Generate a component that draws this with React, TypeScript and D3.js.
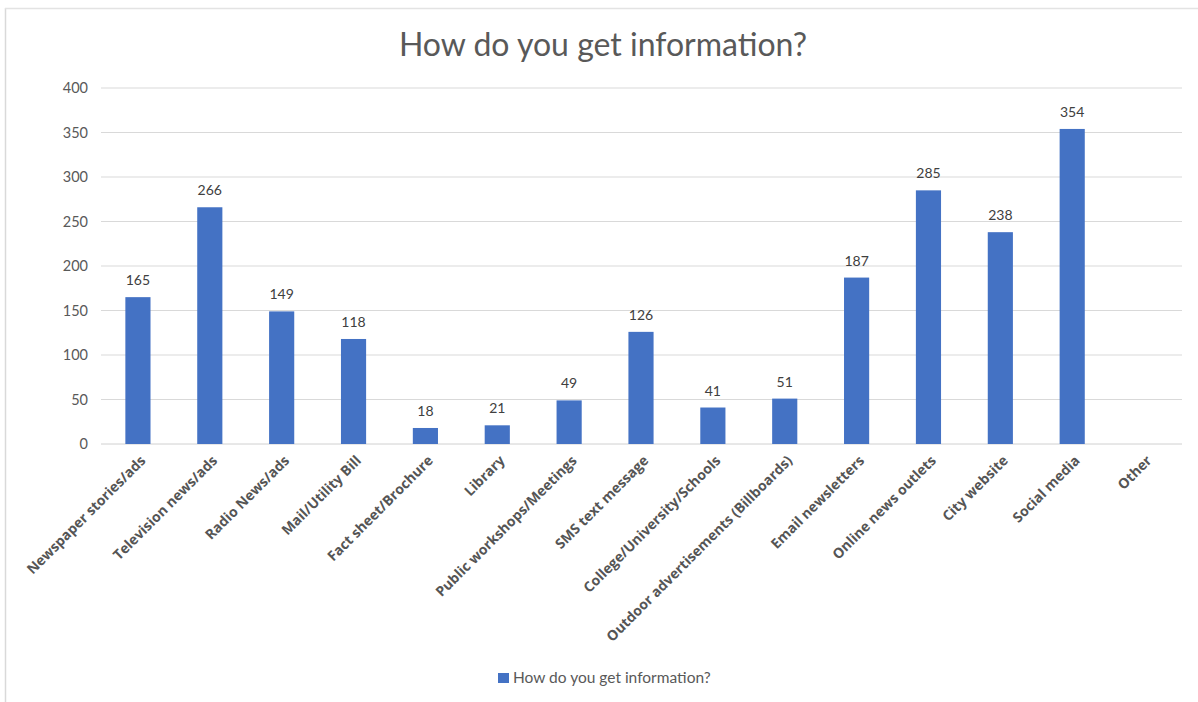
import React from "react";
import * as d3 from "d3";

const categories = [
  "Newspaper stories/ads",
  "Television news/ads",
  "Radio News/ads",
  "Mail/Utility Bill",
  "Fact sheet/Brochure",
  "Library",
  "Public workshops/Meetings",
  "SMS text message",
  "College/University/Schools",
  "Outdoor advertisements (Billboards)",
  "Email newsletters",
  "Online news outlets",
  "City website",
  "Social media",
  "Other",
];
const values: (number | null)[] = [165, 266, 149, 118, 18, 21, 49, 126, 41, 51, 187, 285, 238, 354, null];
const yTicks = [0, 50, 100, 150, 200, 250, 300, 350, 400];
const title = "How do you get information?";
const seriesName = "How do you get information?";

const W = 1198;
const H = 702;
const FONT = "Lato, 'Open Sans', sans-serif";
const LABEL_FONT = "'Open Sans', Lato, sans-serif";

export default function App() {
  const x = d3.scaleBand<string>().domain(categories).range([102, 1180]).paddingInner(0.65).paddingOuter(0.325);
  const y = d3.scaleLinear().domain([0, 400]).range([444, 88]);
  return (
    <svg width={W} height={H} style={{ position: "absolute", left: 0, top: 0, background: "#fff" }}>
      <rect x={0} y={0} width={W} height={H} fill="#fff" />
      <line x1={5.5} x2={5.5} y1={8} y2={H} stroke="#d9d9d9" strokeWidth={1.5} />
      <line x1={5} x2={W} y1={8.5} y2={8.5} stroke="#e3e3e3" strokeWidth={1.5} />
      <text x={603} y={56} textAnchor="middle" fontFamily={FONT} fontSize={32} fill="#595959">
        {title}
      </text>
      {yTicks.map((t) => (
        <g key={t}>
          <line x1={101} x2={1182} y1={y(t)} y2={y(t)} stroke={t === 0 ? "#d0d0d0" : "#d9d9d9"} strokeWidth={1} />
          <text x={88} y={y(t)} dy="0.35em" textAnchor="end" fontFamily={FONT} fontSize={14.5} fill="#595959">
            {t}
          </text>
        </g>
      ))}
      {categories.map((c, i) => {
        const v = values[i];
        const cx = (x(c) as number) + x.bandwidth() / 2;
        return (
          <g key={c}>
            {v !== null && (
              <>
                <rect x={x(c)} y={y(v)} width={x.bandwidth()} height={y(0) - y(v)} fill="#4472c4" />
                <text x={cx} y={y(v) - 12} textAnchor="middle" fontFamily={FONT} fontSize={14} fill="#404040">
                  {v}
                </text>
              </>
            )}
            <text
              transform={`translate(${cx + 5},${458}) rotate(-45)`}
              textAnchor="end"
              dy="0.35em"
              fontFamily={LABEL_FONT}
              fontWeight="bold"
              fontSize={14}
              fill="#555555"
            >
              {c}
            </text>
          </g>
        );
      })}
      <rect x={498} y={673} width={11} height={10} fill="#4472c4" />
      <text x={513} y={678} dy="0.35em" fontFamily={FONT} fontSize={15.5} fill="#595959">
        {seriesName}
      </text>
    </svg>
  );
}
